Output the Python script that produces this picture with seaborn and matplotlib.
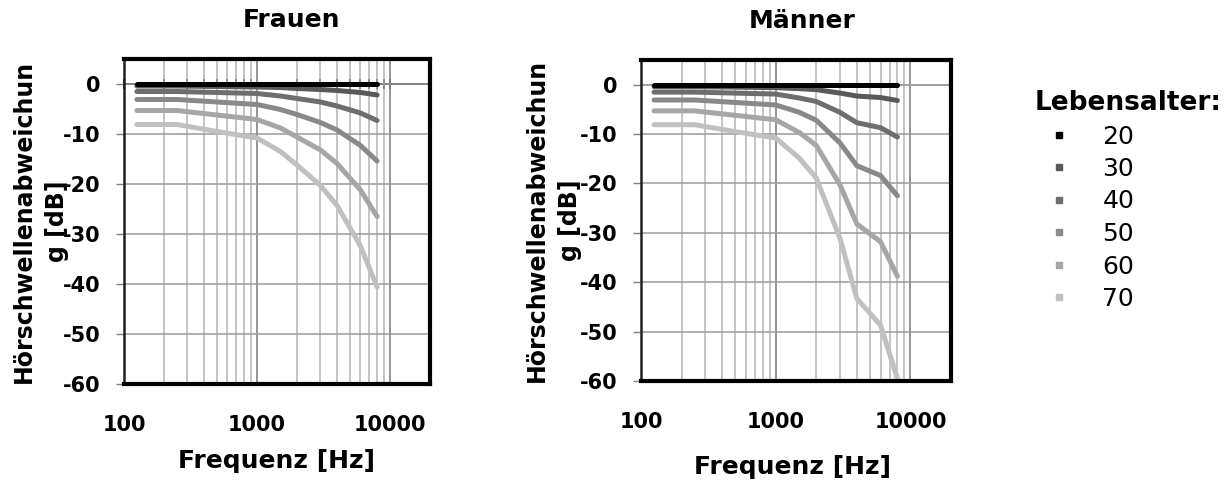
import pandas as pd
import seaborn as sns
import matplotlib.pyplot as plt
from matplotlib.lines import Line2D

# Frequencies (Hz) of the data points
freqs = [125, 250, 500, 1000, 1500, 2000, 3000, 4000, 6000, 8000]
ages = ['20', '30', '40', '50', '60', '70']

# Hearing threshold deviation [dB], women
frauen_20 = [0, 0, 0, 0, 0, 0, 0, 0, 0, 0]
frauen_30 = [-0.4, -0.4, -0.5, -0.6, -0.7, -0.9, -1.1, -1.3, -1.7, -2.2]
frauen_40 = [-1.5, -1.5, -1.7, -1.9, -2.4, -2.9, -3.6, -4.4, -5.8, -7.3]
frauen_50 = [-3.1, -3.1, -3.6, -4.1, -5.1, -6.1, -7.7, -9.2, -12.3, -15.4]
frauen_60 = [-5.3, -5.3, -6.2, -7.1, -8.8, -10.6, -13.2, -15.9, -21.2, -26.5]
frauen_70 = [-8.1, -8.1, -9.5, -10.8, -13.5, -16.2, -20.3, -24.3, -32.4, -40.6]

# Hearing threshold deviation [dB], men
maenner_20 = [0, 0, 0, 0, 0, 0, 0, 0, 0, 0]
maenner_30 = [-0.4, -0.4, -0.5, -0.6, -0.8, -1.0, -1.7, -2.3, -2.6, -3.2]
maenner_40 = [-1.5, -1.5, -1.7, -1.9, -2.7, -3.4, -5.6, -7.7, -8.7, -10.6]
maenner_50 = [-3.1, -3.1, -3.6, -4.1, -5.6, -7.2, -11.8, -16.4, -18.4, -22.5]
maenner_60 = [-5.3, -5.3, -6.2, -7.1, -9.7, -12.3, -20.3, -28.2, -31.8, -38.8]
maenner_70 = [-8.1, -8.1, -9.5, -10.8, -14.9, -18.9, -31.1, -43.3, -48.7, -59.5]

xtick_vals = [100, 1000, 10000]
xtick_labels = ['100', '1000', '10000']
ytick_vals = [0, -10, -20, -30, -40, -50, -60]

colors = {'20': '#000000', '30': '#595959', '40': '#6e6e6e',
          '50': '#898989', '60': '#a6a6a6', '70': '#c0c0c0'}

frauen = [frauen_20, frauen_30, frauen_40, frauen_50, frauen_60, frauen_70]
maenner = [maenner_20, maenner_30, maenner_40, maenner_50, maenner_60, maenner_70]

rows = []
for sex, series in [('Frauen', frauen), ('Männer', maenner)]:
    for age, vals in zip(ages, series):
        for f, v in zip(freqs, vals):
            rows.append({'Geschlecht': sex, 'Lebensalter': age, 'Frequenz': f, 'dB': v})
df = pd.DataFrame(rows)

sns.set_theme(style='white')
plt.rcParams['font.family'] = ['DejaVu Sans']
plt.rcParams['font.weight'] = 'bold'
plt.rcParams['text.color'] = 'black'
plt.rcParams['axes.labelcolor'] = 'black'
plt.rcParams['xtick.color'] = 'black'
plt.rcParams['ytick.color'] = 'black'
plt.rcParams['axes.unicode_minus'] = False

fig = plt.figure(figsize=(12.3, 4.83), dpi=100)
ax_f = fig.add_axes([124 / 1230, 99 / 483, 306 / 1230, 325 / 483])
ax_m = fig.add_axes([641 / 1230, 102 / 483, 310 / 1230, 321 / 483])

# grid positions 200..900, 2000..9000
minor_pos = [m * d for d in (100, 1000) for m in range(2, 10)]


def style_axis(ax, title, title_x, title_y, xlabel_x, xlabel_y, ylabel_x, zero_ticks):
    ax.set_xscale('log')
    ax.set_xlim(100, 20000)
    ax.set_ylim(-60, 5)
    ax.set_xticks(xtick_vals)
    ax.set_xticklabels(xtick_labels)
    ax.set_xticks(minor_pos, minor=True)
    ax.set_yticks(ytick_vals)
    ax.grid(which='major', axis='x', color='#8c8c8c', lw=1.3)
    ax.grid(which='minor', axis='x', color='#b4b4b4', lw=1.1)
    ax.grid(which='major', axis='y', color='#9a9a9a', lw=1.1)
    ax.set_axisbelow(True)
    ax.tick_params(axis='x', which='both', length=0, pad=22, labelsize=15)
    ax.tick_params(axis='y', length=6, width=1, color='#808080', pad=11,
                   labelsize=15, left=True)
    for side in ['top', 'right', 'bottom']:
        ax.spines[side].set_color('black')
        ax.spines[side].set_linewidth(3)
    ax.spines['left'].set_color('#202020')
    ax.spines['left'].set_linewidth(1.8)

    if zero_ticks:
        sec = ax.secondary_xaxis(60 / 65)
        sec.set_xticks([100] + minor_pos + [10000])
        sec.set_xticklabels([])
        sec.minorticks_off()
        sec.tick_params(direction='inout', length=7, width=1.3, color='black')
        sec.spines['bottom'].set_color('#404040')
        sec.spines['bottom'].set_linewidth(1.2)
    else:
        ax.axhline(0, color='#a0a0a0', lw=1.3, zorder=1.5)

    ax.text(title_x, title_y, title, transform=ax.transAxes, ha='center', va='center',
            fontsize=18, fontweight='bold')
    ax.set_xlabel('Frequenz [Hz]', fontsize=18, fontweight='bold')
    ax.xaxis.set_label_coords(xlabel_x, xlabel_y)
    ax.set_ylabel('Hörschwellenabweichun\ng [dB]', fontsize=17, fontweight='bold',
                  linespacing=1.5)
    ax.yaxis.set_label_coords(ylabel_x, 0.5)


for ax, sex in [(ax_f, 'Frauen'), (ax_m, 'Männer')]:
    sns.lineplot(data=df[df['Geschlecht'] == sex], x='Frequenz', y='dB',
                 hue='Lebensalter', hue_order=ages[::-1], palette=colors,
                 linewidth=3.6, solid_capstyle='round', legend=False, ax=ax)

style_axis(ax_f, 'Frauen', 0.549, 1.12, 0.5, -0.2, -0.18, True)
style_axis(ax_m, 'Männer', 0.519, 1.12, 0.49, -0.232, -0.19, False)

# Legend with square markers
handles = [Line2D([], [], marker='s', linestyle='none', color=colors[a], markersize=5)
           for a in ages]
leg = fig.legend(handles, ages, loc='upper left', bbox_to_anchor=(1035 / 1230, 1 - 90 / 483),
                 frameon=False, title='Lebensalter:', alignment='left',
                 prop={'size': 18, 'weight': 'normal'},
                 title_fontproperties={'size': 19, 'weight': 'bold'},
                 borderpad=0, borderaxespad=0, handlelength=1.9, handletextpad=0.8,
                 labelspacing=0.34)

fig.savefig('out.png', dpi=100)
